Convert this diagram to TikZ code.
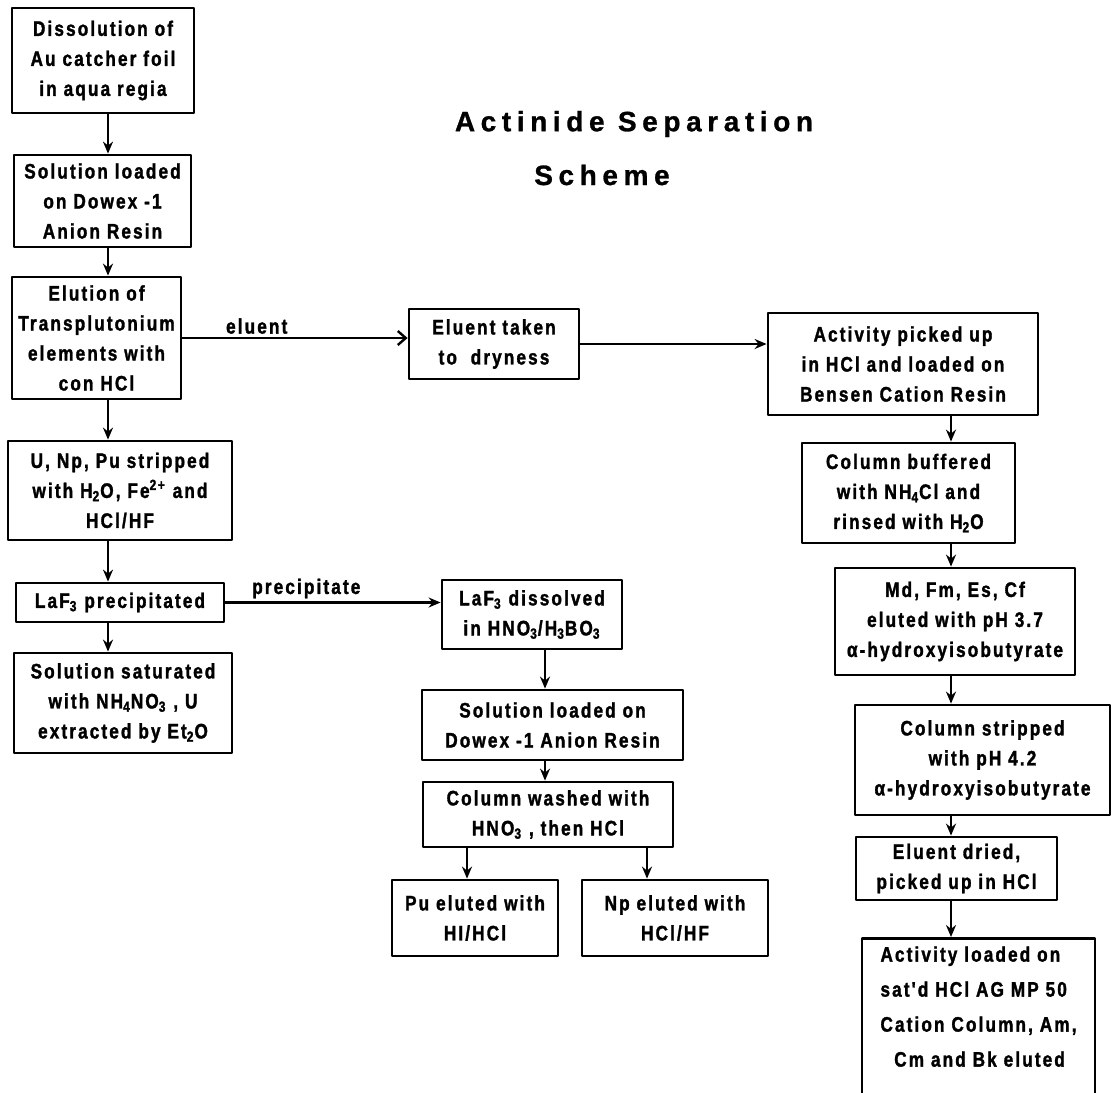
\documentclass[tikz,border=0pt]{standalone}
\usepackage{fontspec}
\setmainfont{Liberation Sans}
\newfontfamily\boxfont{Liberation Sans}[FakeStretch=0.82,LetterSpace=10,BoldFeatures={FakeBold=1.5}]
\newfontfamily\titlefont{Liberation Sans}[LetterSpace=20,BoldFeatures={FakeBold=1}]
\usetikzlibrary{arrows.meta}
\tikzset{
  stepbox/.style={draw,line width=1.4pt,inner sep=1pt,align=center,
    font=\boxfont\bfseries\fontsize{10.5}{15}\selectfont},
  flow/.style={line width=1.2pt,-{Stealth[length=6pt,width=5pt]}},
  barb/.style={line width=1.2pt,-{Straight Barb[length=4pt,width=7pt]}},
  lbl/.style={font=\boxfont\bfseries\fontsize{10.5}{15}\selectfont,inner sep=1.5pt}
}
\begin{document}
\begin{tikzpicture}[x=0.5pt,y=-0.5pt,line cap=round,line join=round]
\useasboundingbox (0,0) rectangle (1113,1092);
\coordinate (lspine) at (108,0);
\coordinate (mspine) at (545,0);
\coordinate (rspine) at (951,0);

\node[font=\titlefont\bfseries\fontsize{14}{17}\selectfont] (title) at (634,124) {Actinide Separation};
\node[font=\titlefont\bfseries\fontsize{14}{17}\selectfont] (scheme) at (602,175) {Scheme};

\node[stepbox,minimum width=91pt,minimum height=52.5pt] (b1) at (103,60.5) {Dissolution of\\Au catcher foil\\in aqua regia};
\node[stepbox,minimum width=88.5pt,minimum height=46pt] (b2) at (102.5,201) {Solution loaded\\on Dowex -1\\Anion Resin};
\node[stepbox,minimum width=84.5pt,minimum height=61pt] (b3) at (96.5,338) {Elution of\\Transplutonium\\elements with\\con HCl};
\node[stepbox,minimum width=112pt,minimum height=49.5pt] (b4) at (120,490.5) {U, Np, Pu stripped\\with H\textsubscript{2}O, Fe\textsuperscript{2+} and\\HCl/HF};
\node[stepbox,minimum width=104pt,minimum height=19.5pt] (b5) at (120,602.5) {LaF\textsubscript{3} precipitated};
\node[stepbox,minimum width=109pt,minimum height=50pt] (b6) at (123,703) {Solution saturated\\with NH\textsubscript{4}NO\textsubscript{3} , U\\extracted by Et\textsubscript{2}O};

\node[stepbox,minimum width=85pt,minimum height=35pt] (b7) at (494,344) {Eluent taken\\to \ dryness};
\node[stepbox,minimum width=90pt,minimum height=34.5pt] (b14) at (532,614.5) {LaF\textsubscript{3} dissolved\\in HNO\textsubscript{3}/H\textsubscript{3}BO\textsubscript{3}};
\node[stepbox,minimum width=130.5pt,minimum height=35pt] (b15) at (552.5,725) {Solution loaded on\\Dowex -1 Anion Resin};
\node[stepbox,minimum width=125pt,minimum height=32.5pt] (b16) at (548,814.5) {Column washed with\\HNO\textsubscript{3} , then HCl};
\node[stepbox,minimum width=83pt,minimum height=38pt] (b17) at (475,918) {Pu eluted with\\HI/HCl};
\node[stepbox,minimum width=93pt,minimum height=38pt] (b18) at (675,918) {Np eluted with\\HCl/HF};

\node[stepbox,minimum width=135pt,minimum height=51pt] (b8) at (903,364) {Activity picked up\\in HCl and loaded on\\Bensen Cation Resin};
\node[stepbox,minimum width=106.5pt,minimum height=50pt] (b9) at (908.5,493) {Column buffered\\with NH\textsubscript{4}Cl and\\rinsed with H\textsubscript{2}O};
\node[stepbox,minimum width=120pt,minimum height=53.5pt] (b10) at (955,621.5) {Md, Fm, Es, Cf\\eluted with pH 3.7\\α-hydroxyisobutyrate};
\node[stepbox,minimum width=127.5pt,minimum height=55pt] (b11) at (982.5,760) {Column stripped\\with pH 4.2\\α-hydroxyisobutyrate};
\node[stepbox,minimum width=100.5pt,minimum height=31.5pt] (b12) at (956.5,868.5) {Eluent dried,\\picked up in HCl};
\node[stepbox,minimum width=116.5pt,inner ysep=4pt,text depth=25pt,anchor=north,align=left,
  font=\boxfont\bfseries\fontsize{10.5}{17.5}\selectfont] (b13) at (978.5,937) {Activity loaded on\\sat'd HCl AG MP 50\\Cation Column, Am,\\\ \ Cm and Bk eluted};

\foreach \a/\b in {b1/b2,b2/b3,b3/b4,b4/b5,b5/b6}
  \draw[flow] (\a.south -| lspine) -- (\b.north -| lspine);
\foreach \a/\b in {b14/b15,b15/b16}
  \draw[flow] (\a.south -| mspine) -- (\b.north -| mspine);
\foreach \a/\b in {b8/b9,b9/b10,b10/b11,b11/b12,b12/b13}
  \draw[flow] (\a.south -| rspine) -- (\b.north -| rspine);
\draw[flow] (b16.south -| b17.north) ++(-8,0) coordinate (s17) -- (s17 |- b17.north);
\draw[flow] (b16.south -| b18.north) ++(-28,0) coordinate (s18) -- (s18 |- b18.north);

\draw[barb] (b3.east) -- (b3.east -| b7.west) node[lbl,above,pos=.33] (elu) {eluent};
\draw[flow] (b7.east) -- (b7.east -| b8.west);
\draw[flow] (b5.east) -- (b5.east -| b14.west) node[lbl,above,pos=.376] (ppt) {precipitate};
\end{tikzpicture}
\end{document}
